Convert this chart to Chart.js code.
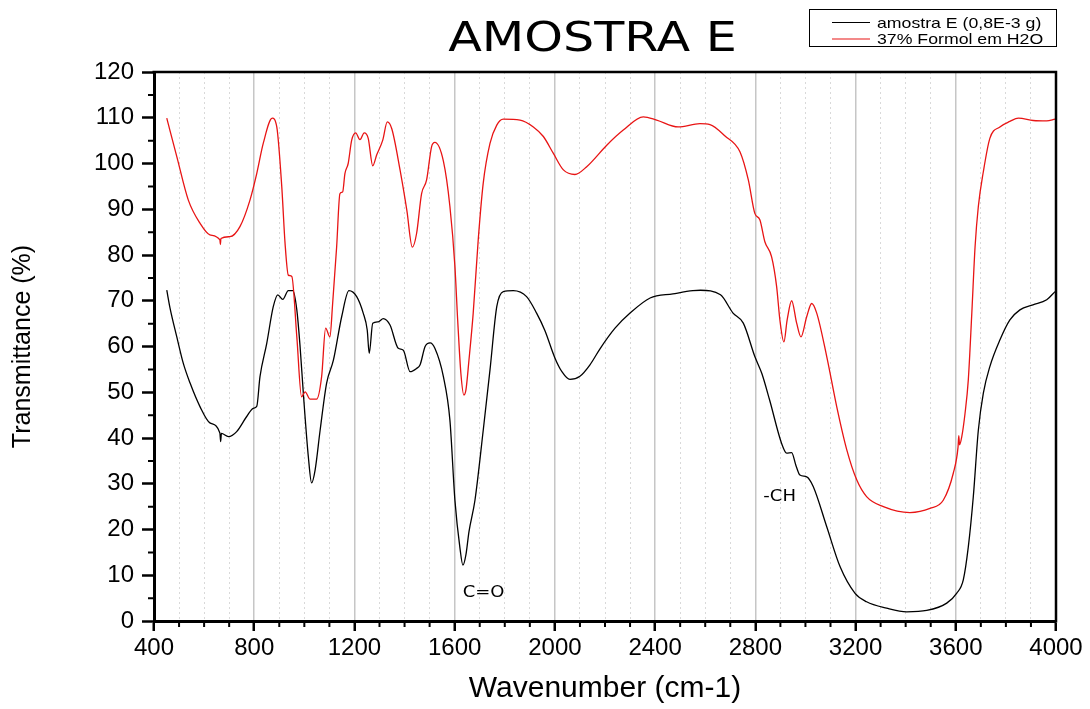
<!DOCTYPE html>
<html>
<head>
<meta charset="utf-8">
<script src="https://cdn.jsdelivr.net/npm/chart.js@4.4.1/dist/chart.umd.min.js"></script>
<style>
  html, body { margin: 0; padding: 0; background: #fff; }
  canvas { display: block; }
</style>
</head>
<body>
<canvas id="c" width="1090" height="709"></canvas>
<script>
// ---------- data ----------
const chartTitle = 'AMOSTRA E';
const xTitle = 'Wavenumber (cm-1)';
const yTitle = 'Transmittance (%)';
const seriesNames = ['amostra E (0,8E-3 g)', '37% Formol em H2O'];

const amostraWn = [451,464,491,517,544,584,623,663,666,669,697,730,770,796,810,823,850,876,894,914,936,954,970,983,996,1016,1029,1043,1063,1089,1116,1149,1178,1209,1235,1251,1259,1273,1295,1315,1342,1375,1395,1422,1448,1462,1482,1502,1521,1555,1581,1601,1621,1633,1645,1657,1681,1714,1741,1768,1794,1834,1887,1927,1960,2000,2028,2060,2100,2140,2180,2240,2300,2380,2471,2551,2581,2661,2711,2752,2798,2826,2857,2905,2925,2945,2962,2978,3005,3031,3085,3138,3198,3244,3324,3404,3484,3564,3604,3630,3650,3670,3690,3710,3736,3776,3816,3856,3908,3963,3996];
const amostraT  = [72.3,68.4,62.1,56.3,52,46.8,43.3,41.1,39.2,41.0,40.3,41.4,44.7,46.5,46.9,53.4,60.7,68.7,71.3,70.3,72.2,72.2,68,60,49.8,35.9,30.2,33,41.7,52,57,66.5,72.2,70.9,67.3,63.6,58.5,65.1,65.4,66.1,64.7,59.6,59.2,54.5,55.2,56,60,60.8,59.6,53.4,43.9,26.4,16,12.2,14.5,19.5,26.4,41.7,54.9,68.7,72,72.2,70.9,67.3,63.5,57.5,54.5,52.8,53.5,56,59.5,64,67.3,70.6,71.5,72.2,72.3,71.3,67.3,65.1,57.8,54.1,48.3,38.8,36.7,36.8,34,31.9,31.5,29.4,20.6,11.9,6.05,4.2,2.8,2.0,2.3,3.9,6.1,9.0,16.2,27.2,41.7,49.8,55.6,61.4,65.8,68,69.1,70.2,72];

const formolWn = [451,460,491,537,584,623,663,665,667,703,743,783,810,836,872,890,910,923,936,950,970,989,1003,1023,1049,1069,1085,1102,1113,1129,1142,1153,1162,1175,1189,1205,1222,1239,1255,1273,1289,1313,1331,1349,1382,1409,1431,1448,1468,1488,1508,1521,1555,1581,1601,1612,1625,1637,1645,1657,1674,1694,1714,1741,1768,1794,1861,1914,1954,1994,2034,2080,2127,2207,2273,2353,2406,2492,2579,2619,2679,2739,2772,2798,2818,2838,2865,2885,2898,2914,2927,2945,2965,2982,3005,3025,3045,3085,3125,3165,3205,3244,3311,3417,3497,3550,3590,3609,3612,3615,3624,3637,3650,3664,3677,3690,3710,3736,3776,3816,3850,3909,3963,3996];
const formolT  = [109.9,108,101.5,92,86.9,84.4,83.3,82.3,83.6,84,86.2,92,97.8,104.4,109.9,108,94.9,82.6,75.6,75.3,62.1,49,50.1,48.5,48.5,53.4,64,62.1,69.4,81.8,93.4,93.8,97.8,100,105.1,106.7,105.2,106.7,105.5,99.5,101.9,105.1,109.1,107.6,98.6,89.8,81.7,84.7,93.4,96.4,103.7,104.6,100.5,90.6,77.5,65.8,54,49.4,50.5,57,67.3,83.3,95.7,104.4,108.4,109.7,109.5,108,105.9,102.2,98.6,97.6,99.3,104,107.3,110.2,109.5,108,108.7,108.5,106,102.5,96.4,89.1,87.7,82.9,79.6,73.1,65.8,61,65.8,70,65.1,62.1,66.5,69.4,67.3,57.8,46.8,37.4,30.8,27.2,25,23.7,24.6,26.4,32.3,38,40.5,38.5,40.3,45.4,52.7,67.3,81.8,90.6,98.2,105.5,108,109.2,109.9,109.4,109.3,109.7];

const annotationTexts = ['C=O', '-CH'];
const annotationWn = [1632, 2832];
const annotationT  = [5.2, 26.3];

const xMin = 400, xMax = 4000, xMajor = 400, xMinor = 100;
const yMin = 0, yMax = 120, yMajor = 10, yMinor = 5;

// ---------- helpers ----------
const toPoints = (xs, ys) => xs.map((x, i) => ({ x: x, y: ys[i] }));
const isMajorX = v => Math.abs(v % xMajor) < 1e-6;
const isMajorY = v => Math.abs(v % yMajor) < 1e-6;

function stretchedText(ctx, text, x, y, sx, align) {
  ctx.save();
  ctx.translate(x, y);
  ctx.scale(sx, 1);
  ctx.textAlign = align || 'left';
  ctx.textBaseline = 'alphabetic';
  ctx.fillText(text, 0, 0);
  ctx.restore();
}

const extrasPlugin = {
  id: 'extras',
  afterDraw(chart) {
    const ctx = chart.ctx;
    const a = chart.chartArea;
    const xs = chart.scales.x, ys = chart.scales.y;
    ctx.save();
    // top and right frame
    ctx.strokeStyle = '#000';
    ctx.lineWidth = 2.5;
    ctx.beginPath();
    ctx.moveTo(a.left - 1.5, a.top);
    ctx.lineTo(a.right, a.top);
    ctx.lineTo(a.right, a.bottom + 1.5);
    ctx.stroke();
    // minor ticks
    ctx.lineWidth = 2;
    ctx.beginPath();
    for (let v = xMin; v <= xMax; v += xMinor) {
      if (isMajorX(v)) continue;
      const px = xs.getPixelForValue(v);
      ctx.moveTo(px, a.bottom);
      ctx.lineTo(px, a.bottom + 6);
    }
    for (let v = yMin; v <= yMax; v += yMinor) {
      if (isMajorY(v)) continue;
      const py = ys.getPixelForValue(v);
      ctx.moveTo(a.left, py);
      ctx.lineTo(a.left - 6, py);
    }
    ctx.stroke();

    // title
    ctx.fillStyle = '#000';
    ctx.font = '41px "DejaVu Sans"';
    stretchedText(ctx, chartTitle, 592.5, 50.5, 1.2, 'center');

    // annotations
    ctx.font = '15px "DejaVu Sans"';
    for (let i = 0; i < annotationTexts.length; i++) {
      stretchedText(ctx, annotationTexts[i], xs.getPixelForValue(annotationWn[i]), ys.getPixelForValue(annotationT[i]), 1.2, 'left');
    }

    // legend box
    const lx = 809, ly = 9, lw = 247, lh = 37;
    ctx.fillStyle = '#fff';
    ctx.fillRect(lx, ly, lw, lh);
    ctx.strokeStyle = '#000';
    ctx.lineWidth = 1;
    ctx.strokeRect(lx + 0.5, ly + 0.5, lw, lh);
    ctx.font = '15px "Liberation Sans"';
    chart.data.datasets.forEach((ds, i) => {
      const yy = 22.5 + i * 16.5;
      ctx.strokeStyle = ds.borderColor;
      ctx.lineWidth = 1.2;
      ctx.beginPath();
      ctx.moveTo(832, yy);
      ctx.lineTo(870, yy);
      ctx.stroke();
      ctx.fillStyle = '#000';
      stretchedText(ctx, ds.label, 877, yy + 5.3, 1.18, 'left');
    });
    ctx.restore();
  }
};

const tickFont = { family: 'Liberation Sans', size: 24 };

new Chart(document.getElementById('c'), {
  type: 'line',
  data: {
    datasets: [
      {
        label: seriesNames[0],
        data: toPoints(amostraWn, amostraT),
        borderColor: '#000000',
        borderWidth: 1.3,
        pointRadius: 0,
        cubicInterpolationMode: 'monotone',
        fill: false,
        order: 2
      },
      {
        label: seriesNames[1],
        data: toPoints(formolWn, formolT),
        borderColor: '#e81414',
        borderWidth: 1.3,
        pointRadius: 0,
        cubicInterpolationMode: 'monotone',
        fill: false,
        order: 1
      }
    ]
  },
  options: {
    responsive: false,
    devicePixelRatio: 1,
    animation: false,
    layout: { padding: { top: 72, right: 34, left: 0, bottom: 0 } },
    plugins: {
      legend: { display: false },
      title: { display: false },
      tooltip: { enabled: false }
    },
    scales: {
      x: {
        type: 'linear',
        min: xMin,
        max: xMax,
        afterFit: s => { s.height = 88; },
        ticks: {
          stepSize: xMinor,
          autoSkip: false,
          maxRotation: 0,
          padding: 3,
          color: '#000',
          font: tickFont,
          callback: v => (isMajorX(v) ? String(v) : '')
        },
        grid: {
          drawOnChartArea: true,
          color: c => (c.tick && isMajorX(c.tick.value)) ? '#c6c6c6' : '#d9d9d9',
          lineWidth: c => (c.tick && isMajorX(c.tick.value)) ? 1.5 : 1,
          tickColor: c => (c.tick && isMajorX(c.tick.value)) ? '#000' : 'rgba(0,0,0,0)',
          tickLength: 10,
          tickWidth: 2.5
        },
        border: {
          display: true,
          color: '#000',
          width: 3,
          dash: c => (c.tick && !isMajorX(c.tick.value)) ? [2, 3] : []
        },
        title: {
          display: true,
          text: xTitle,
          color: '#000',
          font: { family: 'Liberation Sans', size: 30 },
          padding: { top: 0, bottom: 2 }
        }
      },
      y: {
        type: 'linear',
        min: yMin,
        max: yMax,
        afterFit: s => { s.width = 154; },
        ticks: {
          stepSize: yMinor,
          autoSkip: false,
          padding: 8,
          color: '#000',
          font: tickFont,
          callback: v => (isMajorY(v) ? String(v) : '')
        },
        grid: {
          drawOnChartArea: false,
          tickColor: c => (c.tick && isMajorY(c.tick.value)) ? '#000' : 'rgba(0,0,0,0)',
          tickLength: 12,
          tickWidth: 2.5
        },
        border: { display: true, color: '#000', width: 3 },
        title: {
          display: true,
          text: yTitle,
          color: '#000',
          font: { family: 'Liberation Sans', size: 25 },
          padding: { top: 8, bottom: 0 }
        }
      }
    }
  },
  plugins: [extrasPlugin]
});
</script>
</body>
</html>
